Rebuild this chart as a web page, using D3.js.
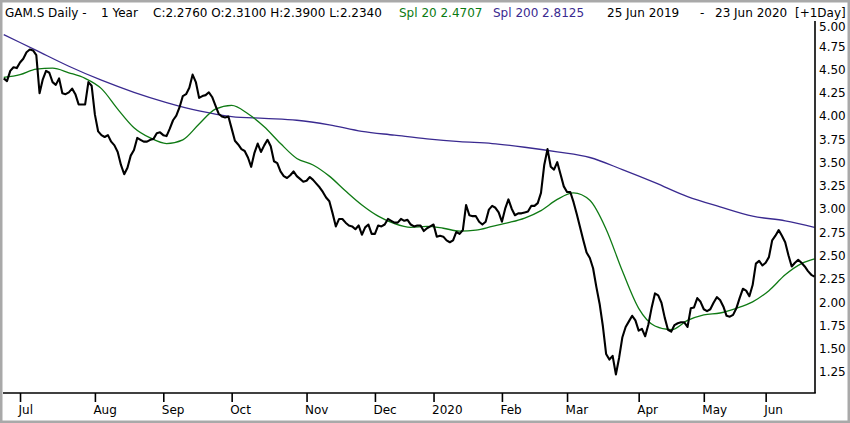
<!DOCTYPE html>
<html lang="en">
<head>
    <meta charset="UTF-8">
    <title>GAM.S Daily</title>
    <script src="https://cdn.jsdelivr.net/npm/d3@7"></script>
    <style>
        body { margin: 0; background: #fff; }
        text { font-family: "DejaVu Sans", Verdana, sans-serif; }
    </style>
</head>
<body>
<script>

    // trading days counted from 24 Jun 2019 (index 0) to 23 Jun 2020 (index 249)
    var closes = [
        4.41, 4.38, 4.49, 4.53, 4.52, 4.58, 4.62, 4.69, 4.72, 4.71,
        4.66, 4.25, 4.40, 4.49, 4.47, 4.37, 4.34, 4.41, 4.25, 4.24,
        4.26, 4.30, 4.24, 4.13, 4.13, 4.13, 4.37, 4.33, 4.02, 3.84,
        3.80, 3.78, 3.80, 3.73, 3.69, 3.62, 3.48, 3.38, 3.45, 3.58,
        3.64, 3.77, 3.75, 3.73, 3.73, 3.75, 3.76, 3.82, 3.83, 3.80,
        3.79, 3.87, 3.96, 4.01, 4.10, 4.22, 4.24, 4.31, 4.45, 4.37,
        4.20, 4.22, 4.23, 4.26, 4.21, 4.12, 4.03, 4.00, 3.99, 4.00,
        3.87, 3.74, 3.70, 3.65, 3.63, 3.56, 3.46, 3.61, 3.71, 3.62,
        3.69, 3.75, 3.68, 3.52, 3.50, 3.41, 3.36, 3.34, 3.37, 3.41,
        3.36, 3.33, 3.30, 3.31, 3.35, 3.32, 3.28, 3.24, 3.19, 3.13,
        3.09, 2.96, 2.82, 2.90, 2.90, 2.86, 2.83, 2.82, 2.79, 2.83,
        2.73, 2.81, 2.84, 2.74, 2.74, 2.83, 2.82, 2.84, 2.90, 2.88,
        2.86, 2.86, 2.90, 2.88, 2.89, 2.84, 2.82, 2.83, 2.83, 2.77,
        2.80, 2.82, 2.84, 2.71, 2.72, 2.71, 2.67, 2.65, 2.67, 2.76,
        2.74, 2.78, 3.05, 2.94, 2.93, 2.93, 2.87, 2.84, 2.87, 3.00,
        3.04, 3.02, 2.97, 2.87, 3.01, 3.11, 3.01, 2.94, 2.96, 2.96,
        2.97, 2.98, 3.04, 3.04, 3.07, 3.18, 3.48, 3.65, 3.46, 3.43,
        3.51, 3.38, 3.25, 3.19, 3.19, 3.08, 2.95, 2.81, 2.67, 2.54,
        2.48, 2.37, 2.17, 1.99, 1.75, 1.45, 1.39, 1.43, 1.23, 1.41,
        1.63, 1.74, 1.80, 1.86, 1.81, 1.70, 1.72, 1.64, 1.77, 1.95,
        2.10, 2.08, 2.00, 1.84, 1.71, 1.69, 1.76, 1.78, 1.79, 1.79,
        1.74, 1.94, 1.95, 2.05, 2.01, 1.93, 1.91, 1.93, 2.00, 2.06,
        2.03, 1.96, 1.86, 1.85, 1.87, 1.94, 2.05, 2.15, 2.13, 2.07,
        2.19, 2.42, 2.45, 2.40, 2.43, 2.49, 2.67, 2.72, 2.78, 2.72,
        2.65, 2.51, 2.39, 2.43, 2.46, 2.43, 2.39, 2.34, 2.30, 2.28
    ];

    var spl20Days = [0, 5, 10, 15, 20, 25, 30, 35, 40, 45, 50, 55, 60, 65, 70, 75, 80, 85, 90, 95,
        100, 105, 110, 115, 120, 125, 130, 135, 140, 145, 150, 155, 160, 165, 170, 175, 180, 185,
        190, 195, 200, 205, 210, 215, 220, 225, 230, 235, 240, 245, 249];
    var spl20 = [4.42, 4.45, 4.51, 4.52, 4.47, 4.41, 4.30, 4.08, 3.88, 3.77, 3.71, 3.75, 3.92, 4.08,
        4.12, 4.03, 3.89, 3.71, 3.55, 3.48, 3.36, 3.20, 3.05, 2.93, 2.85, 2.81, 2.82, 2.80, 2.77,
        2.78, 2.82, 2.86, 2.91, 2.99, 3.11, 3.18, 3.10, 2.79, 2.34, 1.94, 1.75, 1.71, 1.81, 1.87,
        1.89, 1.94, 2.01, 2.13, 2.30, 2.42, 2.47];

    var spl200Days = [0, 10, 20, 30, 40, 50, 60, 70, 80, 90, 100, 110, 120, 130, 140, 150, 160,
        170, 180, 190, 200, 210, 220, 230, 240, 249];
    var spl200 = [4.88, 4.71, 4.54, 4.39, 4.26, 4.15, 4.06, 4.00, 3.98, 3.96, 3.91, 3.84, 3.80,
        3.76, 3.73, 3.71, 3.67, 3.62, 3.56, 3.43, 3.29, 3.14, 3.03, 2.93, 2.88, 2.81];

    var monthDays = [5, 28, 49, 70, 93, 114, 132, 153, 173, 195, 215, 234];
    var monthLabels = ["Jul", "Aug", "Sep", "Oct", "Nov", "Dec", "2020", "Feb", "Mar", "Apr", "May", "Jun"];
    var priceTicks = [5.00, 4.75, 4.50, 4.25, 4.00, 3.75, 3.50, 3.25, 3.00, 2.75, 2.50, 2.25, 2.00, 1.75, 1.50, 1.25];

    var lastBar = {C: "2.2760", O: "2.3100", H: "2.3900", L: "2.2340"};
    var spl20Last = "2.4707", spl200Last = "2.8125";

    var width = 850, height = 423;
    var plotLeft = 3, plotRight = 815, plotBottom = 393, plotTop = 21;
    var fontSize = "12px";

    var svg = d3.select("body").append("svg")
        .attr("width", width)
        .attr("height", height);

    svg.append("rect")
        .attr("x", 1).attr("y", 1)
        .attr("width", width - 2).attr("height", height - 2)
        .attr("fill", "#fff")
        .attr("stroke", "#a9a9a9")
        .attr("stroke-width", 3);

    var x = d3.scaleLinear().domain([0, 249]).range([3.74, 814.5]);
    var y = d3.scaleLinear().domain([1.5, 4.75]).range([349.3, 46.7]);

    // header
    var header = svg.append("text").attr("y", 17).attr("font-size", fontSize);
    header.append("tspan").attr("x", 5).attr("fill", "#000").text("GAM.S Daily -");
    header.append("tspan").attr("x", 101).attr("fill", "#000").text("1 Year");
    header.append("tspan").attr("x", 153).attr("fill", "#000")
        .text("C:" + lastBar.C + " O:" + lastBar.O + " H:" + lastBar.H + " L:" + lastBar.L);
    header.append("tspan").attr("x", 399).attr("fill", "#0a7a12").text("Spl 20 " + spl20Last);
    header.append("tspan").attr("x", 493).attr("fill", "#3a2a90").text("Spl 200 " + spl200Last);
    header.append("tspan").attr("x", 607).attr("fill", "#000").text("25 Jun 2019");
    header.append("tspan").attr("x", 700).attr("fill", "#000").text("-");
    header.append("tspan").attr("x", 715).attr("fill", "#000").text("23 Jun 2020");
    header.append("tspan").attr("x", 795).attr("fill", "#000").text("[+1Day]");

    // lines
    svg.append("clipPath").attr("id", "plot")
        .append("rect").attr("x", plotLeft).attr("y", plotTop)
        .attr("width", plotRight - plotLeft).attr("height", plotBottom - plotTop);

    var g = svg.append("g").attr("clip-path", "url(#plot)");

    var smooth = d3.line()
        .x(function(d) { return x(d[0]); })
        .y(function(d) { return y(d[1]); })
        .curve(d3.curveMonotoneX);

    g.append("path")
        .datum(spl200Days.map(function(d, i) { return [d, spl200[i]]; }))
        .attr("d", smooth)
        .attr("fill", "none")
        .attr("stroke", "#3a2a90")
        .attr("stroke-width", 1.3);

    g.append("path")
        .datum(spl20Days.map(function(d, i) { return [d, spl20[i]]; }))
        .attr("d", smooth)
        .attr("fill", "none")
        .attr("stroke", "#0f7a14")
        .attr("stroke-width", 1.3);

    g.append("path")
        .datum(closes)
        .attr("d", d3.line()
            .x(function(d, i) { return x(i); })
            .y(function(d) { return y(d); }))
        .attr("fill", "none")
        .attr("stroke", "#000")
        .attr("stroke-width", 2.1)
        .attr("stroke-linejoin", "round");

    // axes
    var xAxis = svg.append("g")
        .attr("transform", "translate(0," + plotBottom + ")")
        .call(d3.axisBottom(x)
            .tickValues(monthDays)
            .tickFormat(function(d, i) { return monthLabels[i]; })
            .tickSize(9));
    xAxis.select(".domain").remove();
    xAxis.selectAll(".tick line").attr("stroke", "#000").attr("stroke-width", 1.6);
    xAxis.selectAll(".tick text")
        .attr("text-anchor", "start")
        .attr("x", -2)
        .attr("y", 12)
        .attr("font-size", fontSize)
        .attr("font-family", "DejaVu Sans, Verdana, sans-serif")
        .attr("fill", "#000");

    var yAxis = svg.append("g")
        .attr("transform", "translate(" + plotRight + ",0)")
        .call(d3.axisRight(y)
            .tickValues(priceTicks)
            .tickFormat(d3.format(".2f"))
            .tickSize(0));
    yAxis.select(".domain").remove();
    yAxis.selectAll(".tick")
        .attr("transform", function(d) { return "translate(0," + Math.max(y(d), 27.5) + ")"; });
    yAxis.selectAll(".tick text")
        .attr("x", 4)
        .attr("font-size", fontSize)
        .attr("font-family", "DejaVu Sans, Verdana, sans-serif")
        .attr("fill", "#000");

    // frame
    svg.append("line")
        .attr("x1", plotLeft).attr("x2", plotRight + 0.8)
        .attr("y1", plotBottom).attr("y2", plotBottom)
        .attr("stroke", "#000").attr("stroke-width", 1.6);
    svg.append("line")
        .attr("x1", plotRight).attr("x2", plotRight)
        .attr("y1", plotTop).attr("y2", plotBottom)
        .attr("stroke", "#000").attr("stroke-width", 1.6);

</script>
</body>
</html>
